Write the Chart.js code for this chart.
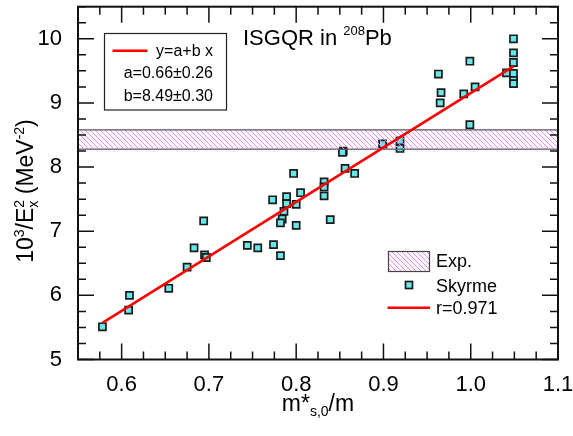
<!DOCTYPE html>
<html>
<head>
<meta charset="utf-8">
<script src="https://cdn.jsdelivr.net/npm/chart.js@4/dist/chart.umd.min.js"></script>
<style>
  html, body { margin: 0; padding: 0; background: #fff; }
</style>
</head>
<body>
<canvas id="c" width="573" height="436"></canvas>
<script>
/* ISGQR in 208Pb — 10^3/Ex^2 vs m*s,0/m, Skyrme points + linear fit + exp. band */
var skyrmeX = [0.578, 0.608, 0.609, 0.654, 0.675, 0.683, 0.695, 0.697, 0.694, 0.744,
               0.756, 0.774, 0.782, 0.773, 0.789, 0.789, 0.786, 0.784, 0.782, 0.800,
               0.800, 0.805, 0.797, 0.832, 0.832, 0.832, 0.839, 0.856, 0.867, 0.854,
               0.853, 0.899, 0.919, 0.919, 0.999, 0.965, 0.966, 0.963, 0.992, 1.005,
               0.999, 1.041, 1.049, 1.049, 1.049, 1.049, 1.049, 1.049];
var skyrmeY = [5.51, 5.77, 6.00, 6.11, 6.44, 6.74, 6.63, 6.59, 7.16, 6.78,
               6.74, 6.79, 6.62, 7.49, 7.54, 7.43, 7.31, 7.19, 7.13, 7.42,
               7.09, 7.60, 7.90, 7.77, 7.69, 7.55, 7.18, 7.98, 7.90, 8.25,
               8.23, 8.36, 8.41, 8.29, 8.66, 9.00, 9.16, 9.45, 9.14, 9.25,
               9.65, 9.47, 9.46, 9.35, 9.30, 9.63, 9.78, 10.00];
var fitX = [0.578, 1.049];
var fitY = [5.57, 9.57];
var expX = [0.55, 1.1];
var expLow = [8.28, 8.28];
var expHigh = [8.58, 8.58];
var xTicks = [0.6, 0.7, 0.8, 0.9, 1.0, 1.1];
var yTicks = [5, 6, 7, 8, 9, 10];

var FONT = '"Liberation Sans", Arial, sans-serif';
var CYAN = '#66e8e8';

function pts(xs, ys) {
  return xs.map(function (x, i) { return { x: x, y: ys[i] }; });
}

// pink "\\\" hatch
function makeHatch() {
  var c = document.createElement('canvas');
  c.width = 5; c.height = 5;
  var g = c.getContext('2d');
  g.strokeStyle = '#f284f2';
  g.lineWidth = 1;
  g.beginPath();
  g.moveTo(-1, -1); g.lineTo(6, 6);
  g.moveTo(-1, 4); g.lineTo(1, 6);
  g.moveTo(4, -1); g.lineTo(6, 1);
  g.stroke();
  return g.createPattern(c, 'repeat');
}
var hatch = makeHatch();

// text with super/subscripts: parts = [text, size, dy, noAdvance]
function rich(ctx, parts, x, y, align) {
  var total = 0;
  parts.forEach(function (p) {
    ctx.font = p[1] + 'px ' + FONT;
    p.w = ctx.measureText(p[0]).width;
    if (!p[3]) total += p.w;
  });
  var cx = align === 'center' ? x - total / 2 : x;
  ctx.textAlign = 'left';
  ctx.textBaseline = 'alphabetic';
  parts.forEach(function (p) {
    ctx.font = p[1] + 'px ' + FONT;
    ctx.fillText(p[0], cx, y + p[2]);
    if (!p[3]) cx += p.w;
  });
}

/* ── frame + inward ticks on all four sides ── */
var frame = {
  id: 'frame',
  afterDatasetsDraw: function (chart) {
    var ctx = chart.ctx, a = chart.chartArea;
    var xs = chart.scales.x, ys = chart.scales.y;
    ctx.save();
    ctx.strokeStyle = '#111';
    ctx.lineWidth = 1.5;
    ctx.beginPath();
    for (var i = 0; i <= 22; i++) {
      var px = xs.getPixelForValue(0.55 + i * 0.025);
      var L = (i % 4 === 2) ? 16 : 8;
      ctx.moveTo(px, a.bottom); ctx.lineTo(px, a.bottom - L);
      ctx.moveTo(px, a.top); ctx.lineTo(px, a.top + L);
    }
    for (var j = 0; j <= 22; j++) {
      var py = ys.getPixelForValue(5 + j * 0.25);
      var M = (j % 4 === 0) ? 16 : 8;
      ctx.moveTo(a.left, py); ctx.lineTo(a.left + M, py);
      ctx.moveTo(a.right, py); ctx.lineTo(a.right - M, py);
    }
    ctx.stroke();
    ctx.lineWidth = 2;
    ctx.strokeRect(a.left, a.top, a.right - a.left, a.bottom - a.top);
    ctx.restore();
  }
};

/* ── title, legends, axis titles ── */
var notes = {
  id: 'notes',
  afterDraw: function (chart) {
    var ctx = chart.ctx;
    ctx.save();
    ctx.fillStyle = '#000';

    rich(ctx, [['ISGQR in ', 22, 0], ['208', 13, -10], ['Pb', 22, 0]], 243, 44.5, 'left');

    // fit box
    ctx.strokeStyle = '#222';
    ctx.lineWidth = 1.2;
    ctx.strokeRect(104.5, 33.5, 122, 76.5);
    ctx.strokeStyle = '#ff0000';
    ctx.lineWidth = 2.6;
    ctx.beginPath(); ctx.moveTo(112.5, 50.7); ctx.lineTo(147.5, 50.7); ctx.stroke();
    ctx.font = '16px ' + FONT;
    ctx.textAlign = 'right';
    ctx.textBaseline = 'alphabetic';
    ctx.fillText('y=a+b x', 213, 56);
    ctx.fillText('a=0.66\u00b10.26', 213, 78.3);
    ctx.fillText('b=8.49\u00b10.30', 213, 100.7);

    // symbols legend
    ctx.fillStyle = hatch;
    ctx.fillRect(388.5, 251.5, 41, 20);
    ctx.strokeStyle = '#444';
    ctx.lineWidth = 1.2;
    ctx.strokeRect(388.5, 251.5, 41, 20);
    ctx.fillStyle = CYAN;
    ctx.fillRect(405.5, 281.5, 7, 7);
    ctx.strokeStyle = '#1a1a1a';
    ctx.lineWidth = 1.7;
    ctx.strokeRect(405.5, 281.5, 7, 7);
    ctx.strokeStyle = '#ff0000';
    ctx.lineWidth = 2.6;
    ctx.beginPath(); ctx.moveTo(387.5, 307.7); ctx.lineTo(430, 307.7); ctx.stroke();
    ctx.fillStyle = '#000';
    ctx.font = '18px ' + FONT;
    ctx.textAlign = 'left';
    ctx.fillText('Exp.', 436, 267);
    ctx.fillText('Skyrme', 436, 292);
    ctx.fillText('r=0.971', 436, 313.5);

    // x title
    rich(ctx, [['m*', 23, 0], ['s,0', 14, 5], ['/m', 23, 0]], 318, 411, 'center');

    // y title (rotated)
    ctx.translate(33, 191);
    ctx.rotate(-Math.PI / 2);
    rich(ctx, [['10', 23, 0], ['3', 14, -9], ['/E', 23, 0], ['2', 14, -9, true], ['x', 14, 5],
               [' (MeV', 23, 0], ['-2', 14, -9], [')', 23, 0]], 0, 0, 'center');
    ctx.restore();
  }
};

new Chart(document.getElementById('c').getContext('2d'), {
  type: 'scatter',
  data: {
    datasets: [
      {
        label: 'Skyrme',
        data: pts(skyrmeX, skyrmeY),
        pointStyle: 'rect',
        pointRadius: 5,
        backgroundColor: CYAN,
        borderColor: '#1a1a1a',
        borderWidth: 1.7,
        order: 3
      },
      {
        label: 'Exp.',
        type: 'line',
        data: pts(expX, expHigh),
        borderColor: '#555',
        borderWidth: 1.2,
        pointRadius: 0,
        fill: '+1',
        backgroundColor: hatch,
        order: 2
      },
      {
        label: 'Exp. low',
        type: 'line',
        data: pts(expX, expLow),
        borderColor: '#555',
        borderWidth: 1.2,
        pointRadius: 0,
        fill: false,
        order: 2
      },
      {
        label: 'fit',
        type: 'line',
        data: pts(fitX, fitY),
        borderColor: '#ff0000',
        borderWidth: 2.6,
        pointRadius: 0,
        fill: false,
        order: 1
      }
    ]
  },
  options: {
    responsive: false,
    animation: false,
    layout: { padding: { top: 4, right: 15, left: 0, bottom: 0 } },
    plugins: { legend: { display: false }, tooltip: { enabled: false } },
    scales: {
      x: {
        type: 'linear', min: 0.55, max: 1.1,
        grid: { display: false, drawTicks: false },
        border: { display: false },
        afterBuildTicks: function (s) { s.ticks = xTicks.map(function (v) { return { value: v }; }); },
        afterFit: function (s) { s.height = 76.5; s.paddingLeft = 0; s.paddingRight = 0; },
        ticks: {
          autoSkip: false, maxRotation: 0, padding: 12, color: '#000',
          font: { size: 22, family: FONT },
          callback: function (v) { return Number(v).toFixed(1); }
        }
      },
      y: {
        type: 'linear', min: 5, max: 10.5,
        grid: { display: false, drawTicks: false },
        border: { display: false },
        afterBuildTicks: function (s) { s.ticks = yTicks.map(function (v) { return { value: v }; }); },
        afterFit: function (s) { s.width = 78; s.paddingTop = 0; s.paddingBottom = 0; },
        ticks: {
          padding: 16, color: '#000',
          font: { size: 22, family: FONT },
          callback: function (v) { return String(v); }
        }
      }
    }
  },
  plugins: [frame, notes]
});
</script>
</body>
</html>
